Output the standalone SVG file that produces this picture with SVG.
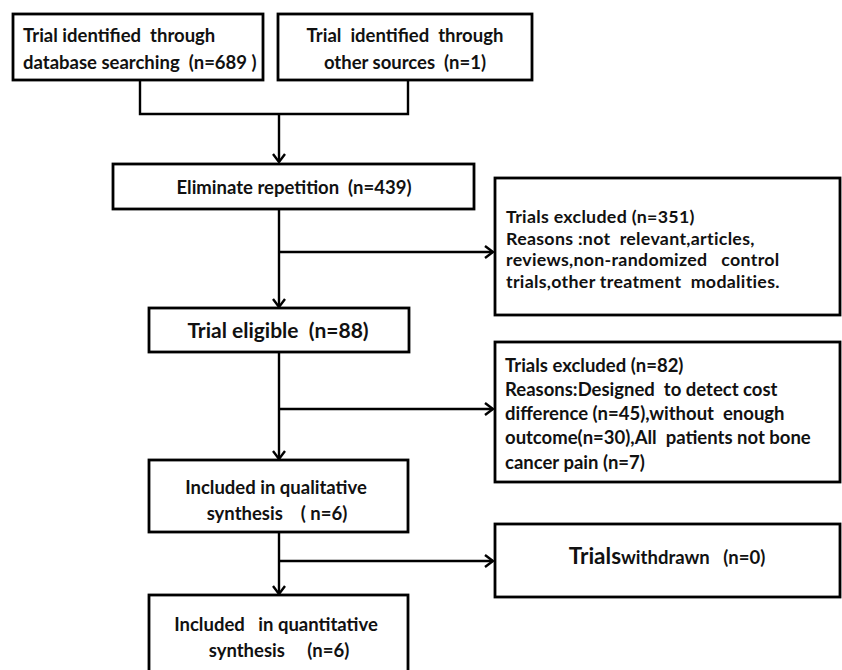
<svg xmlns="http://www.w3.org/2000/svg" width="842" height="670" viewBox="0 0 842 670">
<defs>
<marker id="arr" markerUnits="userSpaceOnUse" markerWidth="12" markerHeight="14" refX="10" refY="7" orient="auto">
<path d="M2,1 L10,7 L2,13" fill="none" stroke="#000" stroke-width="2.4"/>
</marker>
<style>
.box{fill:#fff;stroke:#000;stroke-width:2.8}
.ln{fill:none;stroke:#000;stroke-width:2.4}
text{font-family:Lato,"Open Sans","Liberation Sans",sans-serif;font-weight:bold;fill:#111;font-size:18.5px}
.c{text-anchor:middle}
.big{font-size:21px}
.sm{font-size:17.8px;letter-spacing:0.3px}
</style>
</defs>
<rect width="842" height="670" fill="#fff"/>
<g id="connectors">
<path class="ln" d="M140,80 V114 H408 V80"/>
<path class="ln" d="M279,114 V162" marker-end="url(#arr)"/>
<path class="ln" d="M279,209 V307" marker-end="url(#arr)"/>
<path class="ln" d="M279,252 H493" marker-end="url(#arr)"/>
<path class="ln" d="M279,352 V459" marker-end="url(#arr)"/>
<path class="ln" d="M279,409 H493" marker-end="url(#arr)"/>
<path class="ln" d="M279,532 V594" marker-end="url(#arr)"/>
<path class="ln" d="M279,561 H493" marker-end="url(#arr)"/>
</g>
<g id="n1">
<rect class="box" x="13" y="14" width="250" height="66"/>
<text x="23" y="42" xml:space="preserve">Trial identified  through</text>
<text x="23" y="69" xml:space="preserve">database searching  (n=689 )</text>
</g>
<g id="n2">
<rect class="box" x="278" y="14" width="254" height="66"/>
<text class="c" x="405" y="42" xml:space="preserve">Trial  identified  through</text>
<text class="c" x="405" y="69" xml:space="preserve">other sources  (n=1)</text>
</g>
<g id="n3">
<rect class="box" x="113" y="164" width="361" height="45"/>
<text class="c" x="294" y="193.5" xml:space="preserve">Eliminate repetition  (n=439)</text>
</g>
<g id="n4">
<rect class="box" x="495" y="178" width="345" height="137"/>
<text class="sm" x="506" y="223" xml:space="preserve">Trials excluded (n=351)</text>
<text class="sm" x="506" y="244.5" xml:space="preserve">Reasons :not  relevant,articles,</text>
<text class="sm" x="506" y="266" xml:space="preserve">reviews,non-randomized   control</text>
<text class="sm" x="506" y="287.5" xml:space="preserve">trials,other treatment  modalities.</text>
</g>
<g id="n5">
<rect class="box" x="149" y="308" width="260" height="44"/>
<text class="c big" x="278" y="337.5" xml:space="preserve">Trial eligible  (n=88)</text>
</g>
<g id="n6">
<rect class="box" x="495" y="342" width="345" height="140"/>
<text x="505" y="372" xml:space="preserve">Trials excluded (n=82)</text>
<text x="505" y="396" xml:space="preserve">Reasons:Designed  to detect cost</text>
<text x="505" y="420" xml:space="preserve">difference (n=45),without  enough</text>
<text x="505" y="444" xml:space="preserve">outcome(n=30),All  patients not bone</text>
<text x="505" y="469" xml:space="preserve">cancer pain (n=7)</text>
</g>
<g id="n7">
<rect class="box" x="149" y="460" width="259" height="72"/>
<text class="c" x="276" y="494" xml:space="preserve">Included in qualitative</text>
<text class="c" x="277" y="520" xml:space="preserve">synthesis    ( n=6)</text>
</g>
<g id="n8">
<rect class="box" x="495" y="524" width="345" height="73"/>
<text class="c" x="667" y="564" xml:space="preserve"><tspan font-size="22.5">Trials</tspan><tspan>withdrawn   (n=0)</tspan></text>
</g>
<g id="n9">
<rect class="box" x="149" y="595" width="259" height="80"/>
<text class="c" x="276" y="631" xml:space="preserve">Included   in quantitative</text>
<text class="c" x="279" y="657" xml:space="preserve">synthesis     (n=6)</text>
</g>
</svg>
